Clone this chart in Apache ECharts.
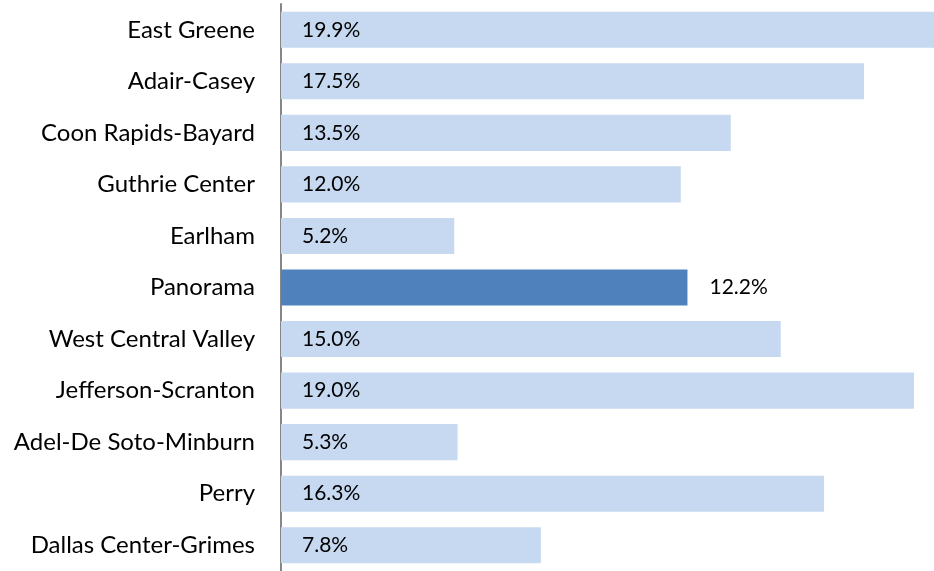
<!DOCTYPE html>
<html><head><meta charset="utf-8">
<script src="https://cdn.jsdelivr.net/npm/echarts@6/dist/echarts.min.js"></script>
<style>html,body{margin:0;padding:0;background:#fff}#c{width:934px;height:571px}</style>
</head><body><div id="c"></div>
<script>
const categories = ["East Greene","Adair-Casey","Coon Rapids-Bayard","Guthrie Center","Earlham","Panorama","West Central Valley","Jefferson-Scranton","Adel-De Soto-Minburn","Perry","Dallas Center-Grimes"];
const values = [19.9,17.5,13.5,12.0,5.2,12.2,15.0,19.0,5.3,16.3,7.8];
const highlight = "Panorama";
const axisMax = 19.6; // visible part of the value axis (chart is cropped at the right)

const FONT = "Lato";
const chart = echarts.init(document.getElementById('c'));
const data = values.map((v,i)=>{
  const hi = categories[i]===highlight;
  return {
    value: v,
    itemStyle: {color: hi ? '#4F81BD' : '#C6D9F1'},
    label: hi ? {position:'right', distance:22} : {position:'insideLeft', distance:21}
  };
});
chart.setOption({
  animation:false,
  grid:{left:281, right:0, top:4, bottom:-4, containLabel:false},
  xAxis:{type:'value', min:0, max:axisMax, show:false},
  yAxis:{type:'category', data:categories, inverse:true,
    axisLine:{show:true, lineStyle:{color:'#868686', width:2}},
    axisTick:{show:false},
    axisLabel:{color:'#000', fontFamily:FONT, fontSize:24, margin:26}
  },
  series:[{type:'bar', data:data, barCategoryGap:'30%', clip:true,
    label:{show:true, color:'#000', fontFamily:FONT, fontSize:21,
      formatter:p=>p.value.toFixed(1)+'%'}
  }]
});
</script></body></html>
